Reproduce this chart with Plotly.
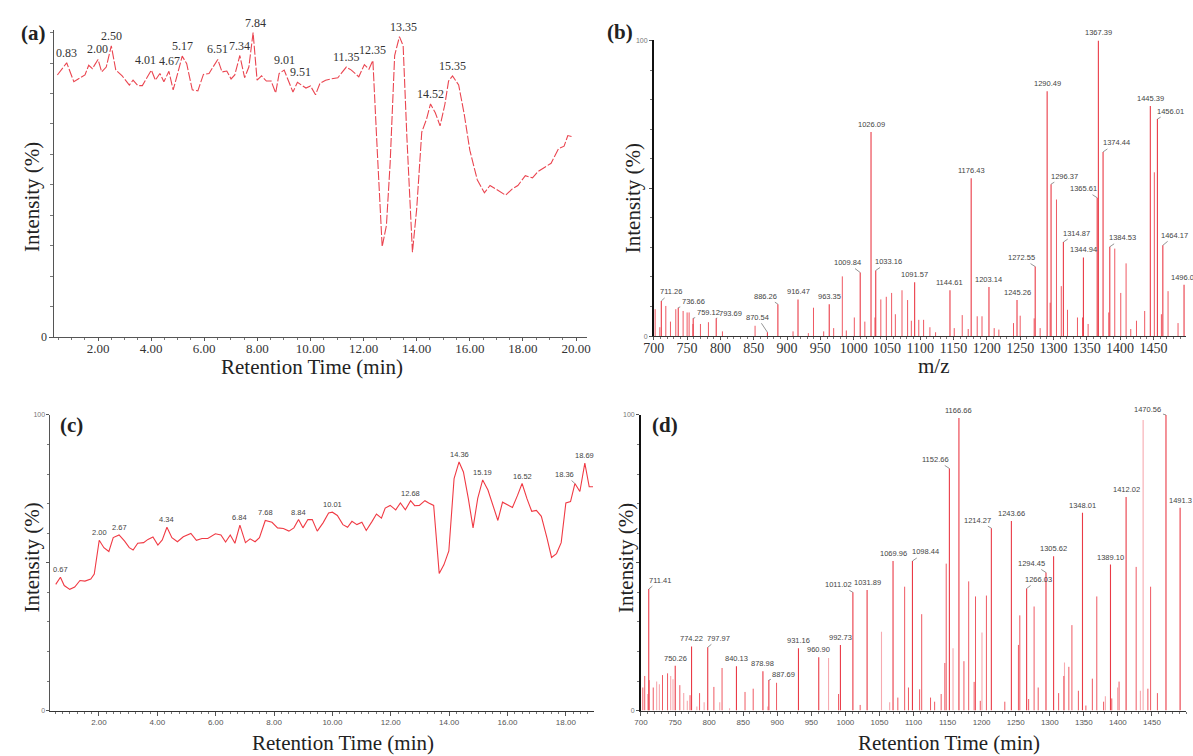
import plotly.graph_objects as go

W, H = 1193, 756

# ---------------- (a) chromatogram ----------------
a_time = [0.47, 0.82, 1.09, 1.51, 1.65, 1.79, 2.00, 2.14, 2.31, 2.50, 2.67, 2.91, 3.18, 3.32, 3.50, 3.67,
          4.01, 4.16, 4.33, 4.48, 4.67, 4.83, 5.00, 5.17, 5.34, 5.55, 5.76, 5.97, 6.18, 6.51, 6.67, 6.85,
          7.01, 7.15, 7.34, 7.52, 7.68, 7.84, 7.99, 8.16, 8.34, 8.52, 8.69, 8.82, 9.01, 9.17, 9.34, 9.51,
          9.66, 9.83, 10.00, 10.19, 10.36, 10.57, 10.77, 11.03, 11.35, 11.54, 11.82, 12.03, 12.20, 12.35,
          12.52, 12.70, 12.86, 13.00, 13.17, 13.35, 13.49, 13.63, 13.84, 14.00, 14.19, 14.37, 14.52, 14.70,
          14.88, 15.06, 15.20, 15.35, 15.58, 15.79, 16.00, 16.28, 16.55, 16.76, 17.04, 17.35, 17.60, 17.81,
          18.09, 18.36, 18.57, 18.85, 19.06, 19.34, 19.55, 19.69, 19.83]
a_int = [86.1, 90.1, 83.9, 86.1, 89.3, 88.2, 91.2, 87.1, 88.7, 95.7, 87.7, 85.8, 82.8, 84.4, 82.6, 82.6,
         87.7, 84.4, 86.6, 83.9, 87.3, 81.2, 86.6, 92.3, 89.8, 81.2, 80.9, 86.3, 86.6, 91.2, 87.1, 87.4,
         84.8, 86.1, 92.5, 85.2, 88.7, 100.0, 84.4, 85.8, 84.1, 84.1, 80.2, 86.6, 87.7, 84.4, 80.5, 83.7,
         82.8, 81.8, 82.5, 79.6, 83.4, 84.4, 84.8, 85.2, 88.7, 87.7, 85.5, 89.5, 88.0, 90.9,
         60.3, 29.7, 36.7, 57.1, 92.5, 98.7, 95.7, 65.7, 27.9, 42.1, 67.3, 71.6, 76.6, 73.7,
         69.4, 76.4, 84.1, 85.8, 82.8, 73.2, 61.4, 51.7, 47.4, 49.8, 48.3, 46.6, 48.7, 49.8,
         53.0, 52.3, 54.4, 56.0, 57.1, 61.9, 62.7, 66.2, 65.9]
a_labels = ["0.83", "2.00", "2.50", "4.01", "4.67", "5.17", "6.51", "7.34", "7.84", "9.01", "9.51",
            "11.35", "12.35", "13.35", "14.52", "15.35"]
a_xticks = [2, 4, 6, 8, 10, 12, 14, 16, 18, 20]
a_xticklabels = ["2.00", "4.00", "6.00", "8.00", "10.00", "12.00", "14.00", "16.00", "18.00", "20.00"]

# ---------------- (b) mass spectrum ----------------
b_labels = ["711.26", "736.66", "759.12", "793.69", "870.54", "886.26", "916.47", "963.35", "1009.84",
            "1026.09", "1033.16", "1091.57", "1144.61", "1176.43", "1203.14", "1245.26", "1272.55",
            "1290.49", "1296.37", "1314.87", "1344.94", "1365.61", "1367.39", "1374.44", "1384.53",
            "1445.39", "1456.01", "1464.17", "1496.01"]
b_label_int = [11.9, 9.6, 6.0, 6.0, 1.3, 10.8, 12.4, 10.8, 21.5, 69.0, 22.2, 18.2, 15.5, 53.4, 16.6,
               12.2, 23.5, 82.8, 51.4, 31.8, 26.6, 46.8, 100.0, 62.3, 30.2, 77.8, 73.4, 30.7, 17.4]
b_other_mz = [702, 709, 718, 725, 733, 744, 750, 753, 758.7, 770, 782, 803, 852, 909, 932, 939.7, 955,
              970, 983, 989, 1001, 1016.8, 1032, 1040.8, 1049, 1057, 1062.6, 1072.6, 1081, 1086.6,
              1097.8, 1105, 1114.5, 1123, 1151, 1163, 1172, 1185.5, 1192.7, 1211, 1218, 1240, 1250,
              1271, 1280, 1295, 1304.5, 1311.7, 1321, 1336, 1343.6, 1352, 1383, 1392, 1401, 1409,
              1416, 1424.6, 1436.9, 1451.4, 1462, 1472, 1487]
b_other_int = [9.1, 3.0, 10.2, 4.9, 9.1, 8.5, 8.0, 8.0, 4.1, 4.1, 4.7, 1.6, 3.5, 1.6, 1.0, 9.6, 1.6,
               2.7, 20.2, 1.9, 6.3, 4.9, 6.3, 12.4, 13.3, 14.6, 7.4, 15.5, 12.2, 5.2,
               5.5, 5.5, 3.0, 1.3, 2.7, 7.1, 2.4, 6.7, 6.7, 2.7, 2.2, 4.4, 6.9,
               6.0, 2.7, 11.3, 46.2, 16.9, 8.9, 6.3, 6.3, 4.1, 8.0, 29.6, 14.6, 24.6,
               2.4, 5.2, 8.5, 55.4, 7.4, 15.2, 4.4]
b_xticks = [700, 750, 800, 850, 900, 950, 1000, 1050, 1100, 1150, 1200, 1250, 1300, 1350, 1400, 1450]

# ---------------- (c) chromatogram ----------------
c_time = [0.52, 0.68, 0.81, 1.00, 1.17, 1.35, 1.52, 1.72, 1.84, 2.01, 2.17, 2.34, 2.49, 2.69, 2.88,
          3.04, 3.17, 3.33, 3.53, 3.68, 3.85, 4.02, 4.17, 4.33, 4.50, 4.69, 4.89, 5.15, 5.34, 5.53,
          5.73, 5.99, 6.18, 6.34, 6.50, 6.66, 6.83, 7.02, 7.18, 7.35, 7.50, 7.70, 7.93, 8.12, 8.32,
          8.51, 8.68, 8.84, 8.99, 9.16, 9.31, 9.48, 9.68, 9.87, 10.00, 10.17, 10.36, 10.52, 10.67,
          10.84, 11.01, 11.16, 11.36, 11.51, 11.68, 11.81, 11.98, 12.17, 12.33, 12.50, 12.68, 12.82,
          12.98, 13.17, 13.30, 13.47, 13.66, 13.82, 13.99, 14.17, 14.34, 14.49, 14.66, 14.82, 14.98,
          15.15, 15.33, 15.50, 15.67, 15.83, 16.02, 16.17, 16.34, 16.50, 16.67, 16.83, 16.99, 17.16,
          17.35, 17.51, 17.68, 17.84, 18.00, 18.16, 18.31, 18.48, 18.65, 18.80, 18.93]
c_int = [42.7, 45.1, 42.3, 41.0, 41.8, 44.0, 43.8, 44.5, 46.2, 57.6, 55.1, 53.8, 58.5, 59.4, 57.3,
         55.1, 54.3, 56.6, 56.8, 57.9, 58.7, 56.0, 57.7, 62.0, 58.5, 57.1, 58.8, 59.9, 57.6, 58.2,
         58.2, 59.8, 59.4, 57.0, 59.4, 56.6, 62.7, 56.8, 58.1, 57.1, 58.5, 64.3, 63.7, 61.8, 61.6,
         60.7, 61.8, 64.6, 61.8, 64.6, 64.6, 60.7, 63.5, 66.8, 67.1, 66.0, 62.9, 62.0, 64.0,
         62.9, 63.7, 60.9, 64.0, 66.5, 65.1, 68.5, 69.4, 67.9, 70.2, 67.9, 71.0, 69.3,
         69.4, 71.0, 70.2, 69.4, 46.4, 49.3, 54.0, 78.5, 84.1, 80.7, 71.6, 61.8, 71.8,
         78.0, 74.6, 69.6, 64.3, 70.5, 69.6, 68.7, 72.7, 76.8, 71.6, 67.4, 67.7, 65.7,
         58.5, 51.8, 53.1, 56.8, 70.2, 70.7, 76.8, 74.1, 83.7, 75.7, 75.7]
c_labels = ["0.67", "2.00", "2.67", "4.34", "6.84", "7.68", "8.84", "10.01", "12.68", "14.36",
            "15.19", "16.52", "18.36", "18.69"]
c_xticks = [2, 4, 6, 8, 10, 12, 14, 16, 18]
c_xticklabels = ["2.00", "4.00", "6.00", "8.00", "10.00", "12.00", "14.00", "16.00", "18.00"]

# ---------------- (d) mass spectrum ----------------
d_labels = ["711.41", "750.26", "774.22", "797.97", "840.13", "878.98", "887.69", "931.16", "960.90",
            "992.73", "1011.02", "1031.89", "1069.96", "1098.44", "1152.66", "1166.66", "1214.27",
            "1243.66", "1266.03", "1294.45", "1305.62", "1348.01", "1389.10", "1412.02", "1470.56",
            "1491.3"]
d_label_int = [41.1, 15.2, 21.7, 21.4, 15.0, 13.3, 10.3, 21.1, 18.0, 22.2, 40.0, 40.8, 50.6, 50.6,
               81.9, 99.0, 61.7, 64.1, 41.3, 46.7, 52.2, 66.9, 49.4, 72.2, 100.0, 68.6]
d_other_mz = [702.7, 705.5, 712, 718, 731.6, 739, 757, 772, 786, 807, 819, 852.7, 864.7, 899, 990,
              1021.7, 1077, 1087, 1092.6, 1109, 1112, 1125, 1131, 1140.6, 1146, 1148, 1174, 1181,
              1189, 1191, 1198, 1207, 1234, 1254, 1256, 1269, 1277, 1283, 1313, 1320.6, 1328, 1332.5,
              1342, 1353, 1362.5, 1369, 1379, 1391, 1401.7, 1426.8, 1444, 1448, 1458]
d_other_int = [7.8, 11.7, 10.3, 7.8, 12.0, 12.6, 8.6, 5.2, 5.9, 8.0, 14.4, 6.3, 7.4, 9.4, 5.6,
               1.9, 4.4, 41.9, 7.8, 7.2, 32.6, 4.4, 3.0, 5.6, 16.1, 49.7, 16.7, 43.7,
               9.7, 38.6, 3.3, 38.9, 3.0, 22.2, 32.2, 3.9, 35.2, 7.8, 5.9, 11.7, 14.8, 28.9,
               6.7, 1.7, 10.8, 38.6, 3.0, 4.1, 9.8, 48.6, 7.4, 41.9, 5.9]
d_faint_mz = [709.8, 723, 727, 743.6, 747, 762.7, 768, 782, 792.7, 815.6, 830, 886, 975.3, 1053,
              1065, 1158, 1200.5, 1321.6, 1381.6, 1399.5, 1433, 1437]
d_faint_int = [5.6, 9.8, 8.9, 11.7, 10.6, 5.9, 3.3, 1.4, 2.8, 2.8, 0.8, 1.4, 17.8, 26.7,
               2.8, 21.1, 26.4, 16.3, 4.8, 7.8, 6.7, 98.3]
d_xticks = [700, 750, 800, 850, 900, 950, 1000, 1050, 1100, 1150, 1200, 1250, 1300, 1350, 1400, 1450]

# ---------------- layout helpers (styles / positions) ----------------
RED = "#ea3a46"
OTHER_RED = "#ef5963"
LINE_RED = "#ea4550"
PINK = "#f7aab0"
SERIF = "Liberation Serif"
SANS = "Liberation Sans"


def xp(v):
    return v / W


def yp(v):
    return 1 - v / H


def sticks(mz, inten):
    xs, ys = [], []
    for m, v in zip(mz, inten):
        xs += [m, m, None]
        ys += [0, v, None]
    return xs, ys


fig = go.Figure()

fig.add_trace(go.Scatter(x=a_time, y=a_int, mode="lines", xaxis="x", yaxis="y",
                         line=dict(color=LINE_RED, width=1.1, dash="9px,2px"), hoverinfo="skip"))

bx, by = sticks(b_other_mz, b_other_int)
fig.add_trace(go.Scatter(x=bx, y=by, mode="lines", xaxis="x2", yaxis="y2",
                         line=dict(color=OTHER_RED, width=1.0), hoverinfo="skip"))
bx, by = sticks([float(t) for t in b_labels], b_label_int)
fig.add_trace(go.Scatter(x=bx, y=by, mode="lines", xaxis="x2", yaxis="y2",
                         line=dict(color=RED, width=1.1), hoverinfo="skip"))

fig.add_trace(go.Scatter(x=c_time, y=c_int, mode="lines", xaxis="x3", yaxis="y3",
                         line=dict(color="#f03a44", width=1.1), hoverinfo="skip"))

dx, dy = sticks(d_faint_mz, d_faint_int)
fig.add_trace(go.Scatter(x=dx, y=dy, mode="lines", xaxis="x4", yaxis="y4",
                         line=dict(color=PINK, width=1.1), hoverinfo="skip"))
dx, dy = sticks(d_other_mz, d_other_int)
fig.add_trace(go.Scatter(x=dx, y=dy, mode="lines", xaxis="x4", yaxis="y4",
                         line=dict(color=OTHER_RED, width=1.0), hoverinfo="skip"))
dx, dy = sticks([float(t) for t in d_labels], d_label_int)
fig.add_trace(go.Scatter(x=dx, y=dy, mode="lines", xaxis="x4", yaxis="y4",
                         line=dict(color=RED, width=1.1), hoverinfo="skip"))


def base_axis(**kw):
    d = dict(showgrid=False, zeroline=False, showline=True, linecolor="#555", linewidth=1,
             ticks="outside", ticklen=4, tickcolor="#555", fixedrange=True)
    d.update(kw)
    return d


def minor(step, length=2):
    return dict(tickmode="linear", tick0=0, dtick=step, ticks="outside", ticklen=length,
                tickcolor="#777", showgrid=False)


small_tick = dict(family=SANS, size=8, color="#555")

fig.update_layout(
    width=W, height=H, margin=dict(l=0, r=0, t=0, b=0),
    paper_bgcolor="white", plot_bgcolor="white", showlegend=False, hovermode=False,
    xaxis=base_axis(domain=[xp(44), xp(583)], range=[0.36, 20.4], anchor="y", ticklen=3,
                    ticklabelstandoff=-4,
                    tickmode="array", tickvals=a_xticks, ticktext=a_xticklabels,
                    tickfont=dict(family=SERIF, size=13, color="#333"), minor=minor(0.5)),
    yaxis=base_axis(domain=[yp(338), yp(26)], range=[0, 101], anchor="x",
                    tickmode="array", tickvals=[0], ticktext=["0"],
                    tickfont=dict(family=SERIF, size=12, color="#333"), minor=minor(10, 3)),
    xaxis2=base_axis(domain=[xp(651), xp(1190)], range=[700, 1499], anchor="y2", ticklen=3,
                     ticklabelstandoff=-4,
                     tickmode="array", tickvals=b_xticks, ticktext=[str(v) for v in b_xticks],
                     tickfont=dict(family=SERIF, size=14, color="#333"), minor=minor(10),
                     linecolor="#333"),
    yaxis2=base_axis(domain=[yp(337), yp(37)], range=[0, 100], anchor="x2",
                     tickmode="array", tickvals=[0, 50, 100], ticktext=["0", "", "100"],
                     tickfont=dict(family=SANS, size=7, color="#777"), ticklen=3,
                     linecolor="#111", linewidth=1.6, minor=minor(10)),
    xaxis3=base_axis(domain=[xp(40), xp(590)], range=[0.34, 18.95], anchor="y3",
                     tickmode="array", tickvals=c_xticks, ticktext=c_xticklabels,
                     tickfont=small_tick, minor=minor(0.25), linecolor="#333"),
    yaxis3=base_axis(domain=[yp(717), yp(417)], range=[0, 100], anchor="x3",
                     tickmode="array", tickvals=[0, 50, 100], ticktext=["0", "", "100"],
                     tickfont=dict(family=SANS, size=7, color="#777"), ticklen=3,
                     minor=minor(10)),
    xaxis4=base_axis(domain=[xp(638), xp(1190)], range=[700, 1500], anchor="y4",
                     tickmode="array", tickvals=d_xticks, ticktext=[str(v) for v in d_xticks],
                     tickfont=small_tick, minor=minor(10), linecolor="#333"),
    yaxis4=base_axis(domain=[yp(717), yp(417)], range=[0, 100], anchor="x4",
                     tickmode="array", tickvals=[0, 50, 100], ticktext=["0", "", "100"],
                     tickfont=dict(family=SANS, size=7, color="#777"), ticklen=3,
                     linecolor="#111", linewidth=1.6, minor=minor(10)),
)

ann = []


def paper_text(text, x, y, size, angle=0):
    ann.append(dict(text=text, x=xp(x), y=yp(y), xref="paper", yref="paper", showarrow=False,
                    textangle=angle, xanchor="center", yanchor="middle",
                    font=dict(family=SERIF, size=size, color="#222")))


# panel letters and axis titles
paper_text("<b>(a)</b>", 23, 29, 21)
paper_text("<b>(b)</b>", 617, 28, 21)
paper_text("<b>(c)</b>", 61, 427, 21)
paper_text("<b>(d)</b>", 662, 427, 21)
paper_text("Intensity (%)", 21, 196, 21, -90)
paper_text("Intensity (%)", 630, 197, 21, -90)
paper_text("Intensity (%)", 21, 562, 21, -90)
paper_text("Intensity (%)", 623, 562, 21, -90)
paper_text("Retention Time (min)", 305, 368, 21)
paper_text("m/z", 935, 367, 21)
paper_text("Retention Time (min)", 336, 750, 21)
paper_text("Retention Time (min)", 950, 750, 21)


def nearest(xs, ys, v):
    i = min(range(len(xs)), key=lambda k: abs(xs[k] - v))
    return xs[i], ys[i]


def peak_label(text, x, y, xr, yr, font, lead=None, xshift=0):
    if lead:
        ann.append(dict(text=text, x=x, y=y, xref=xr, yref=yr, showarrow=True, arrowhead=0,
                        arrowwidth=0.7, arrowcolor="#666", ax=lead[0], ay=lead[1], standoff=0,
                        font=font))
    else:
        ann.append(dict(text=text, x=x, y=y, xref=xr, yref=yr, showarrow=False,
                        yanchor="bottom", yshift=1, xshift=xshift, font=font))


a_font = dict(family=SERIF, size=12, color="#333")
a_shift = {"4.01": -6, "4.67": 1, "13.35": 4, "9.51": 3, "2.00": -1, "7.84": 2}
for t in a_labels:
    px_, py_ = nearest(a_time, a_int, float(t))
    peak_label(t, px_, py_, "x", "y", a_font, xshift=a_shift.get(t, 0))

small_font = dict(family=SANS, size=7.5, color="#444")
c_leaders = {"18.36": (-10, -9)}
for t in c_labels:
    px_, py_ = nearest(c_time, c_int, float(t))
    peak_label(t, px_, py_, "x3", "y3", small_font, c_leaders.get(t))

b_leaders = {"711.26": (10, -9), "736.66": (15, -6), "759.12": (15, -6), "793.69": (14, -5),
             "870.54": (-10, -15), "886.26": (-12, -8), "1009.84": (-13, -10),
             "1033.16": (13, -9), "1272.55": (-14, -9), "1296.37": (13, -8), "1314.87": (13, -9),
             "1365.61": (-14, -9), "1374.44": (13, -9), "1384.53": (13, -9), "1456.01": (13, -8),
             "1464.17": (12, -10)}
for t, v in zip(b_labels, b_label_int):
    peak_label(t, float(t), v, "x2", "y2", small_font, b_leaders.get(t))

d_leaders = {"711.41": (11, -9), "797.97": (11, -9), "887.69": (15, -6), "1011.02": (-14, -8),
             "1098.44": (13, -9), "1152.66": (-14, -9), "1214.27": (-14, -8), "1266.03": (12, -9),
             "1294.45": (-14, -9), "1470.56": (-18, -5)}
for t, v in zip(d_labels, d_label_int):
    peak_label(t, float(t), v, "x4", "y4", small_font, d_leaders.get(t))

fig.update_layout(annotations=ann)
fig.write_html("out.html", config={"displayModeBar": False},
               post_script="document.body.style.margin='0';document.body.style.overflow='hidden';")
